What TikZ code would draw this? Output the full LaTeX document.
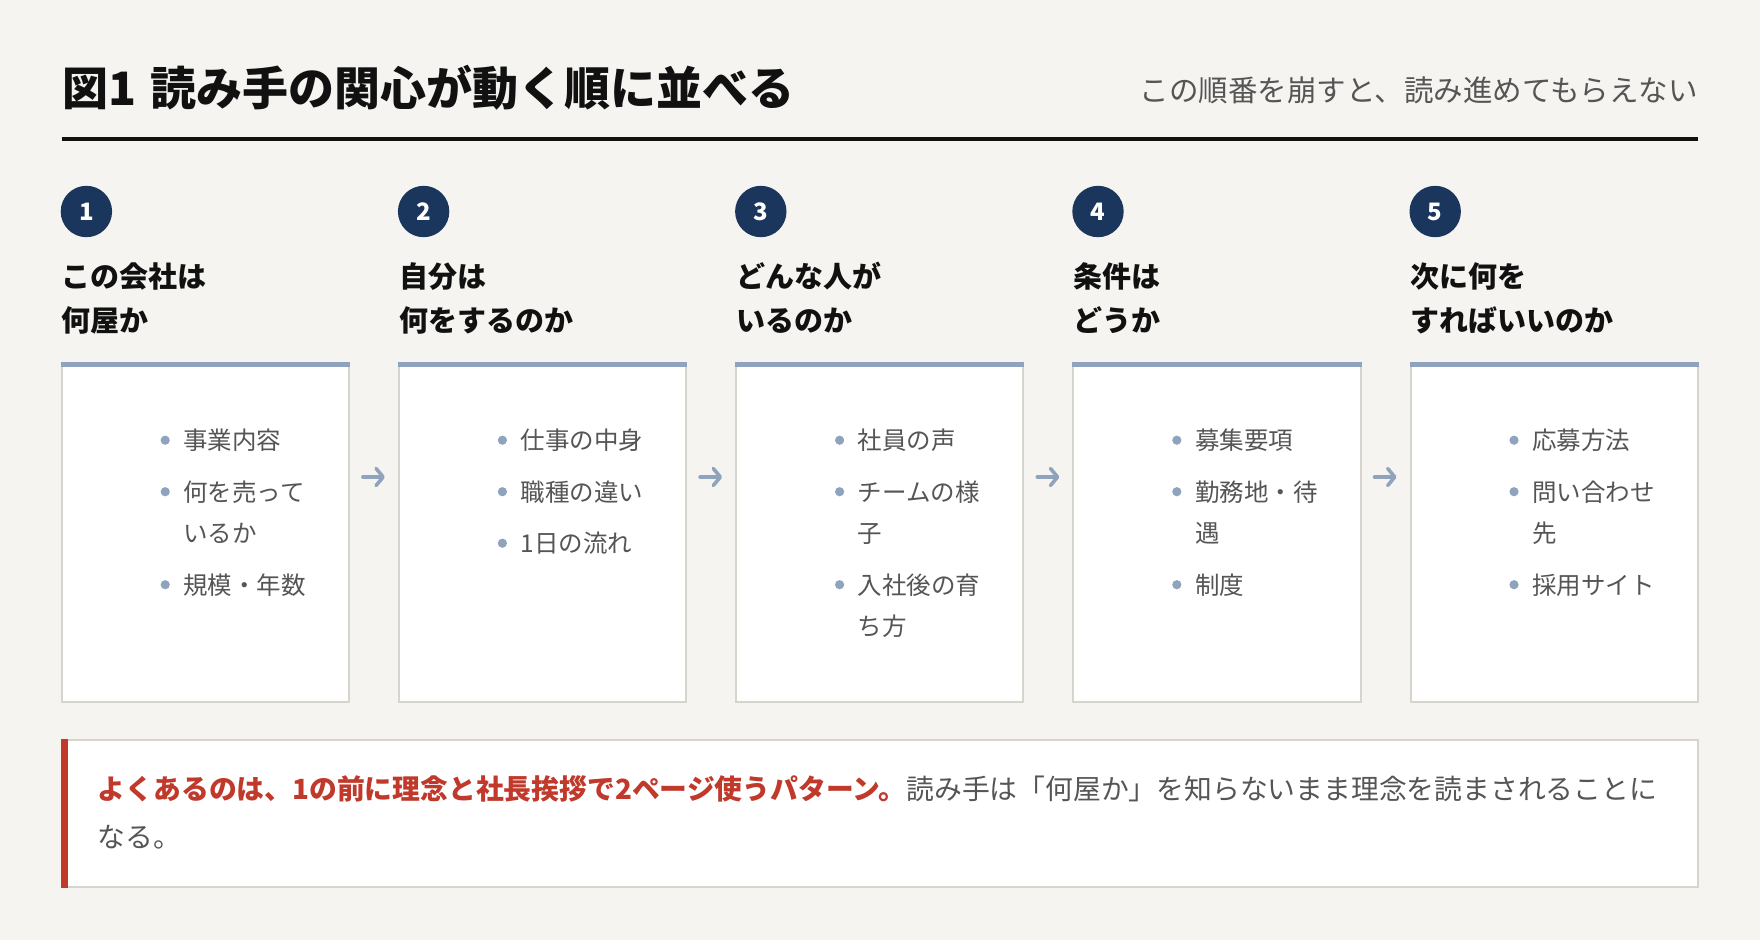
\documentclass[tikz,border=0pt]{standalone}
\usepackage{fontspec}
\setmainfont{Noto Sans CJK JP}
\usetikzlibrary{calc,arrows.meta}
\definecolor{paper}{HTML}{F5F4F0}
\definecolor{ink}{HTML}{111111}
\definecolor{body}{HTML}{555555}
\definecolor{navy}{HTML}{1B365D}
\definecolor{accent}{HTML}{8FA3BC}
\definecolor{frame}{HTML}{D7D4CD}
\definecolor{alert}{HTML}{C0392B}
\begin{document}
\begin{tikzpicture}[x=1pt,y=-1pt,line width=0.5pt,
	heading/.style={anchor=base west,inner sep=0pt,text=ink,font=\fontsize{46}{46}\selectfont\bfseries},
	aside/.style={anchor=base east,inner sep=0pt,text=body,font=\fontsize{29.5}{29.5}\selectfont},
	stepnum/.style={circle,fill=navy,text=white,minimum size=51.4pt,inner sep=0pt,font=\fontsize{24}{24}\selectfont\bfseries},
	headline/.style={anchor=base west,inner sep=0pt,text=ink,font=\fontsize{29}{29}\selectfont\bfseries},
	card/.style={draw=frame,line width=2pt,fill=white,minimum width=287.2pt,minimum height=339pt,inner sep=0pt},
	item/.style={anchor=base west,inner sep=0pt,text=body,font=\fontsize{24.5}{24.5}\selectfont},
	flow/.style={line width=3.6pt,accent,line cap=round,-{Straight Barb[length=7pt,width=17pt,round]}},
	notetext/.style={anchor=base west,inner sep=0pt,text=body,font=\fontsize{27.8}{27.8}\selectfont}]
\useasboundingbox (0,0) rectangle (1760,940);
\fill[paper] (0,0) rectangle (1760,940);

\node[heading] (title) at (62,105) {図1\hspace{0.3em}読み手の関心が動く順に並べる};
\node[aside] (sub) at (1698,101) {この順番を崩すと、読み進めてもらえない};
\draw[line width=3.5pt,ink] (61.7,139)--(1698,139);

\foreach \i/\ha/\hb in {1/この会社は/何屋か,2/自分は/何をするのか,3/どんな人が/いるのか,4/条件は/どうか,5/次に何を/すればいいのか}{
	\pgfmathsetmacro\cx{61.7+(\i-1)*337.2}
	\node[stepnum] (n\i) at (\cx+24.7,211.5) {\i};
	\node[headline] (h\i a) at (\cx,287) {\ha};
	\node[headline] (h\i b) at (\cx,331) {\hb};
	\node[card] (c\i) at (\cx+143.6,532) {};
	\draw[line width=5.6pt,accent] ([yshift=-2.8pt]c\i.north west)--([yshift=-2.8pt]c\i.north east);
}

\foreach \c/\y/\t [count=\k] in {1/449.5/事業内容,1/501/何を売って,1/594/規模・年数,2/449.5/仕事の中身,2/501/職種の違い,2/552.5/1日の流れ,3/449.5/社員の声,3/501/チームの様,3/594/入社後の育,4/449.5/募集要項,4/501/勤務地・待,4/594/制度,5/449.5/応募方法,5/501/問い合わせ,5/594/採用サイト}{
	\fill[accent] ({61.7+(\c-1)*337.2+103.5},{\y-9.3}) circle (4.6pt);
	\node[item] (li\k) at ({61.7+(\c-1)*337.2+121.5},\y) {\t};
}
\foreach \c/\y/\t [count=\k] in {1/542.5/いるか,3/542.5/子,3/635.5/ち方,4/542.5/遇,5/542.5/先}{
	\node[item] (lw\k) at ({61.7+(\c-1)*337.2+121.5},\y) {\t};
}

\foreach \i [evaluate=\i as \j using int(\i+1)] in {1,...,4}{
	\draw[flow] ($(c\i.east)+(13,-55)$)--($(c\j.west)+(-13,-55)$);
}

\node[draw=frame,line width=2pt,fill=white,minimum width=1636.3pt,minimum height=147pt,inner sep=0pt] (note) at (879.85,813.5) {};
\fill[alert] (note.north west) rectangle ([xshift=7pt]note.south west);
\node[notetext] (nt1) at (97.6,799.6) {{\bfseries\color{alert}よくあるのは、1の前に理念と社長挨拶で2ページ使うパターン。}読み手は「何屋か」を知らないまま理念を読まされることに};
\node[notetext] (nt2) at (97.6,847.9) {なる。};

\end{tikzpicture}
\end{document}
